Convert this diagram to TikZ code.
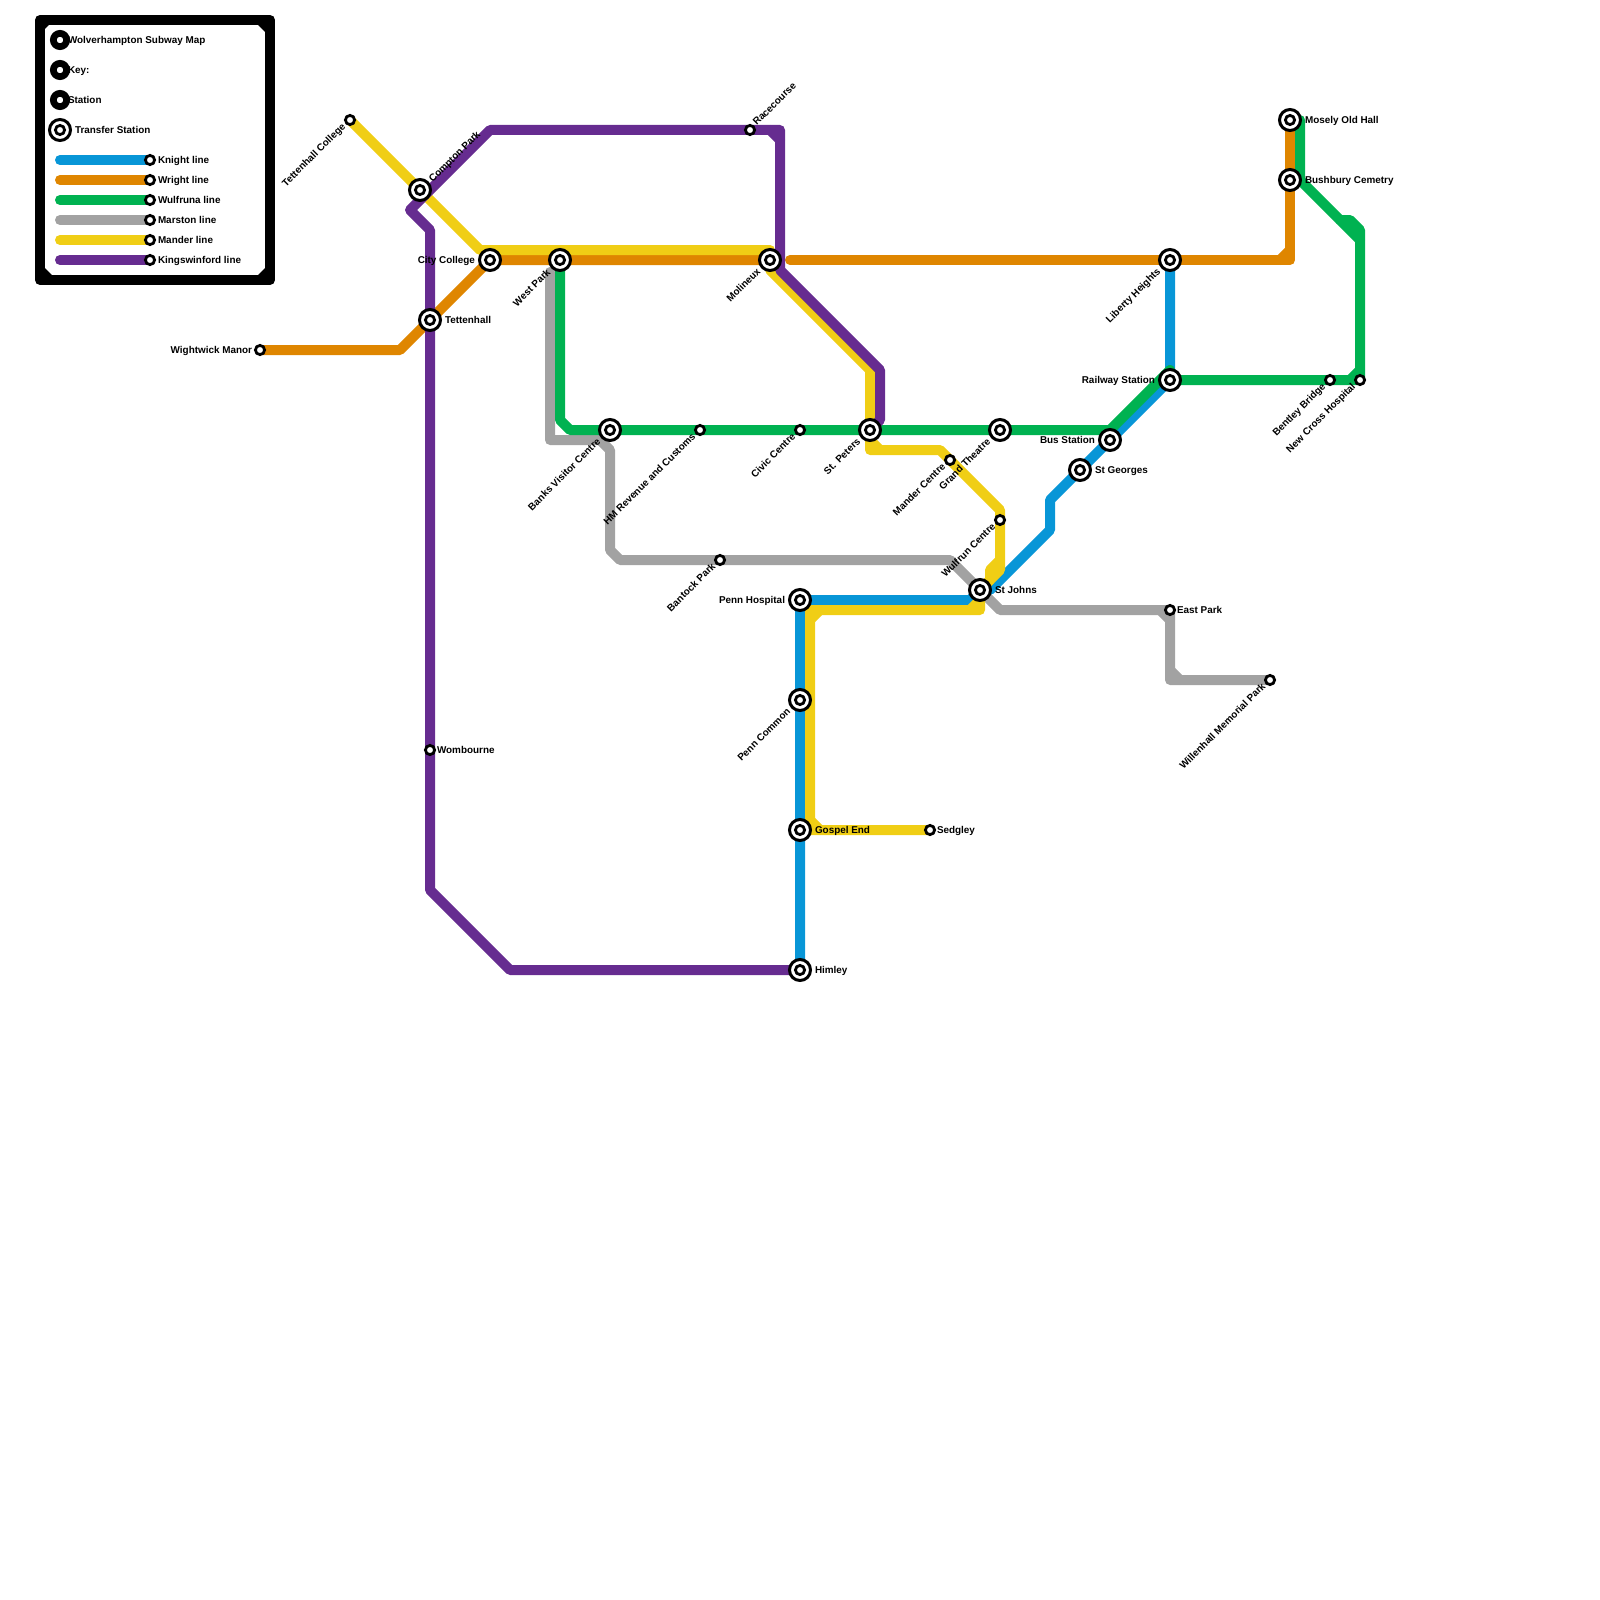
\documentclass[tikz,border=0pt]{standalone}
\usepackage{fontspec}
\setmainfont{Liberation Sans}
\pgfdeclarelayer{lines}
\pgfsetlayers{lines,main}
\definecolor{cblue}{HTML}{0896D7}
\definecolor{corange}{HTML}{DF8600}
\definecolor{cgreen}{HTML}{00B251}
\definecolor{cgrey}{HTML}{A2A2A2}
\definecolor{cyellow}{HTML}{F0CE15}
\definecolor{cpurple}{HTML}{662C90}
\tikzset{
  ln/.style={line width=10pt,line cap=round,line join=round},
  smallstn/.style={circle,draw=black,fill=white,line width=2.8pt,minimum size=9.2pt,inner sep=0pt,outer sep=0pt},
  ringstn/.style={circle,draw=black,fill=white,line width=3pt,minimum size=21pt,inner sep=0pt,outer sep=0pt},
  bigstn/.style={circle,draw=black,fill=white,line width=6.7pt,minimum size=13.3pt,inner sep=0pt,outer sep=0pt},
  txt/.style={inner sep=0pt,outer sep=0pt,font=\fontsize{9.9}{12}\selectfont\bfseries},
  lr/.style={txt,text height=10.6pt,text depth=2pt,anchor=west},
  ll/.style={txt,text height=10.6pt,text depth=2pt,anchor=east},
  dl/.style={txt,text height=7.6pt,text depth=2pt,anchor=east,rotate=45,xshift=-1pt,yshift=0.5pt},
  ur/.style={txt,text height=7.6pt,text depth=2pt,anchor=west,rotate=45},
}
\newcommand{\stnat}[3]{\node[smallstn] (#1) at (#2,#3) {};}
\newcommand{\xfrat}[3]{\node[ringstn] (#1) at (#2,#3) {};\node[smallstn] (#1-c) at (#2,#3) {};}
\begin{document}
\begin{tikzpicture}[x=1pt,y=-1pt]
\useasboundingbox (0,0) rectangle (1600,1600);
% frame
\draw[line width=10pt,line join=round] (40,20) rectangle (270,280);
\fill (45,25) -- (49,25) -- (45,29) -- cycle;
\fill (265,25) -- (258,25) -- (265,32) -- cycle;
\fill (265,275) -- (258,275) -- (265,268) -- cycle;
\fill (45,275) -- (52,275) -- (45,268) -- cycle;
% legend markers
\node[bigstn] (k1) at (60,40) {};
\node[bigstn] (k2) at (60,70) {};
\node[bigstn] (k3) at (60,100) {};
\xfrat{k4}{60}{130}
\coordinate (a1) at (60,160);\coordinate (a2) at (60,180);\coordinate (a3) at (60,200);
\coordinate (a4) at (60,220);\coordinate (a5) at (60,240);\coordinate (a6) at (60,260);
\stnat{b1}{150}{160}\stnat{b2}{150}{180}\stnat{b3}{150}{200}
\stnat{b4}{150}{220}\stnat{b5}{150}{240}\stnat{b6}{150}{260}
\node[lr] (t1) at (68,39) {Wolverhampton Subway Map};
\node[lr] (t2) at (68,69) {Key:};
\node[lr] (t3) at (68,99) {Station};
\node[lr] (t4) at (75,129) {Transfer Station};
\node[lr] (t5) at (158,159) {Knight line};
\node[lr] (t6) at (158,179) {Wright line};
\node[lr] (t7) at (158,199) {Wulfruna line};
\node[lr] (t8) at (158,219) {Marston line};
\node[lr] (t9) at (158,239) {Mander line};
\node[lr] (t10) at (158,259) {Kingswinford line};
% stations
\stnat{tc}{350}{120}
\xfrat{cp}{420}{190}
\stnat{wm}{260}{350}
\xfrat{te}{430}{320}
\xfrat{cc}{490}{260}
\xfrat{wp}{560}{260}
\xfrat{mo}{770}{260}
\stnat{rc}{750}{130}
\xfrat{bv}{610}{430}
\stnat{hm}{700}{430}
\stnat{ci}{800}{430}
\xfrat{sp}{870}{430}
\xfrat{gt}{1000}{430}
\stnat{mc}{950}{460}
\stnat{wc}{1000}{520}
\stnat{bp}{720}{560}
\xfrat{sj}{980}{590}
\xfrat{ph}{800}{600}
\xfrat{pc}{800}{700}
\xfrat{ge}{800}{830}
\xfrat{hi}{800}{970}
\stnat{se}{930}{830}
\stnat{wo}{430}{750}
\xfrat{sg}{1080}{470}
\xfrat{bs}{1110}{440}
\xfrat{rs}{1170}{380}
\xfrat{lh}{1170}{260}
\xfrat{mh}{1290}{120}
\xfrat{bc}{1290}{180}
\stnat{bb}{1330}{380}
\stnat{nc}{1360}{380}
\stnat{ep}{1170}{610}
\stnat{wi}{1270}{680}
% labels
\node[dl] (l1) at (345,125) {Tettenhall College};
\node[ur] (l2) at (431,181) {Compton Park};
\node[ll] (l3) at (252,349) {Wightwick Manor};
\node[lr] (l4) at (445,319) {Tettenhall};
\node[ll] (l5) at (475,259) {City College};
\node[dl] (l6) at (550,271) {West Park};
\node[dl] (l7) at (760,270) {Molineux};
\node[ur] (l8) at (755,124) {Racecourse};
\node[dl] (l9) at (600,440) {Banks Visitor Centre};
\node[dl] (l10) at (695,435) {HM Revenue and Customs};
\node[dl] (l11) at (795,435) {Civic Centre};
\node[dl] (l12) at (860,440) {St. Peters};
\node[dl] (l13) at (990,440) {Grand Theatre};
\node[dl] (l14) at (945,465) {Mander Centre};
\node[dl] (l15) at (995,525) {Wulfrun Centre};
\node[dl] (l16) at (715,565) {Bantock Park};
\node[lr] (l17) at (995,589) {St Johns};
\node[ll] (l18) at (785,599) {Penn Hospital};
\node[dl] (l19) at (790,710) {Penn Common};
\node[lr] (l20) at (815,829) {Gospel End};
\node[lr] (l21) at (815,969) {Himley};
\node[lr] (l22) at (937,829) {Sedgley};
\node[lr] (l23) at (437,749) {Wombourne};
\node[lr] (l24) at (1095,469) {St Georges};
\node[ll] (l25) at (1095,439) {Bus Station};
\node[ll] (l26) at (1155,379) {Railway Station};
\node[dl] (l27) at (1160,270) {Liberty Heights};
\node[lr] (l28) at (1305,119) {Mosely Old Hall};
\node[lr] (l29) at (1305,179) {Bushbury Cemetry};
\node[dl] (l30) at (1325,385) {Bentley Bridge};
\node[dl] (l31) at (1355,385) {New Cross Hospital};
\node[lr] (l32) at (1177,609) {East Park};
\node[dl] (l33) at (1265,685) {Willenhall Memorial Park};
% lines
\begin{pgfonlayer}{lines}
% legend
\draw[ln,cblue] (a1) -- (b1.center);
\draw[ln,corange] (a2) -- (b2.center);
\draw[ln,cgreen] (a3) -- (b3.center);
\draw[ln,cgrey] (a4) -- (b4.center);
\draw[ln,cyellow] (a5) -- (b5.center);
\draw[ln,cpurple] (a6) -- (b6.center);
% Marston
\draw[ln,cgrey] (550,272) -- (550,440) -- (600,440) -- (610,450) -- (610,550) -- (620,560) -- (bp.center) -- (950,560) -- (1000,610) -- (ep.center) -- (1170,680) -- (wi.center);
\draw[ln,cgrey] (1160,610) -- (1170,620);
\draw[ln,cgrey] (1170,670) -- (1180,680);
% Knight
\draw[ln,cblue] (hi.center) -- (ge.center) -- (pc.center) -- (ph.center) -- (970,600) -- (sj.center) -- (990,590) -- (1050,530) -- (1050,500) -- (sg.center) -- (bs.center) -- (rs.center) -- (lh.center);
% Wright
\draw[ln,corange] (wm.center) -- (400,350) -- (te.center) -- (cc.center) -- (wp.center) -- (mo.center);
\draw[ln,corange] (790,260) -- (lh.center) -- (1290,260) -- (bc.center) -- (mh.center);
\draw[ln,corange] (1280,260) -- (1290,250);
% Wulfruna
\draw[ln,cgreen] (wp.center) -- (560,420) -- (570,430) -- (bv.center) -- (hm.center) -- (ci.center) -- (sp.center) -- (gt.center) -- (1110,430) -- (1170,370) -- (rs.center) -- (bb.center) -- (nc.center) -- (1360,230) -- (1350,220) -- (1340,220) -- (1300,180) -- (1300,120);
\draw[ln,cgreen] (1340,220) -- (1360,240);
\draw[ln,cgreen] (1350,380) -- (1360,370);
% Mander
\draw[ln,cyellow] (tc.center) -- (cp.center) -- (480,250) -- (770,250) -- (mo.center) -- (770,270) -- (870,370) -- (sp.center) -- (870,450) -- (940,450) -- (mc.center) -- (1000,510) -- (wc.center) -- (1000,570) -- (sj.center) -- (980,610) -- (810,610) -- (810,830) -- (ge.center) -- (se.center);
\draw[ln,cyellow] (870,440) -- (880,450);
\draw[ln,cyellow] (1000,560) -- (990,570) -- (990,580) -- (sj.center);
\draw[ln,cyellow] (970,610) -- (980,600);
\draw[ln,cyellow] (810,620) -- (820,610);
\draw[ln,cyellow] (810,820) -- (820,830);
% Kingswinford
\draw[ln,cpurple] (hi.center) -- (510,970) -- (430,890) -- (wo.center) -- (te.center) -- (430,230) -- (410,210) -- (490,130) -- (rc.center) -- (780,130) -- (780,270) -- (880,370) -- (880,420) -- (sp.center);
\draw[ln,cpurple] (770,130) -- (780,140);
\end{pgfonlayer}
\end{tikzpicture}
\end{document}
